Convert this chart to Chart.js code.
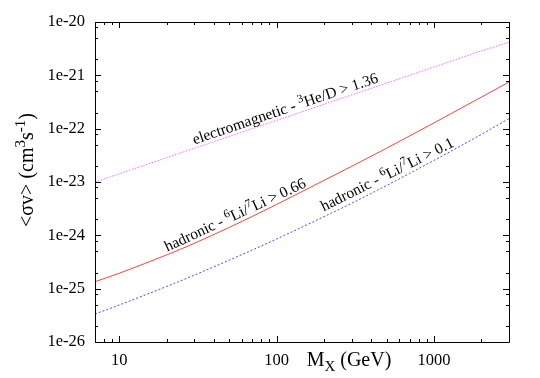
<!DOCTYPE html>
<html><head><meta charset="utf-8">
<script src="https://cdn.jsdelivr.net/npm/chart.js@4/dist/chart.umd.min.js"></script>
<style>html,body{margin:0;padding:0;background:#fff}#wrap{width:540px;height:378px;position:relative}</style>
</head><body><div id="wrap"><canvas id="c"></canvas></div>
<script>
// ---- data ----
const massGeV = [7, 10, 20, 30, 50, 70, 100, 200, 300, 500, 700, 1000, 2000, 3000];
const emHe3D = [1.0e-23, 1.43e-23, 2.86e-23, 4.3e-23, 7.15e-23, 1.0e-22, 1.43e-22, 2.86e-22, 4.3e-22, 7.15e-22, 1.0e-21, 1.43e-21, 2.86e-21, 4.2e-21];
const hadLi066 = [1.35e-25, 1.95e-25, 4.3e-25, 7.1e-25, 1.41e-24, 2.26e-24, 3.8e-24, 1.07e-23, 1.97e-23, 4.3e-23, 7.3e-23, 1.28e-22, 3.9e-22, 7.5e-22];
const hadLi01 = [3.35e-26, 4.95e-26, 1.1e-25, 1.8e-25, 3.43e-25, 5.3e-25, 8.55e-25, 2.24e-24, 4.0e-24, 8.6e-24, 1.45e-23, 2.54e-23, 7.8e-23, 1.55e-22];

const xTickValues = [10, 100, 1000];
const xTickLabels = ['10', '100', '1000'];
const yTickValues = [1e-26, 1e-25, 1e-24, 1e-23, 1e-22, 1e-21, 1e-20];
const yTickLabels = ['1e-26', '1e-25', '1e-24', '1e-23', '1e-22', '1e-21', '1e-20'];
const xMinorMultiples = [2, 3, 4, 5, 6, 7, 8, 9];
const yMinorMultiples = [2, 5, 8];
const xRange = [7, 3000];
const yRange = [1e-26, 1e-20];

// labels: [text, kind] kind 0 normal, 1 superscript, -1 subscript
const curveLabels = [
  {x: 116, y: 1.95e-22, angle: 18.7, parts: [['electromagnetic - ', 0], ['3', 1], ['He/D > 1.36', 0]]},
  {x: 56, y: 2.0e-24, angle: 25, parts: [['hadronic - ', 0], ['6', 1], ['Li/', 0], ['7', 1], ['Li > 0.66', 0]]},
  {x: 520, y: 1.15e-23, angle: 26.5, parts: [['hadronic - ', 0], ['6', 1], ['Li/', 0], ['7', 1], ['Li > 0.1', 0]]}
];
const xTitle = [['M', 0], ['X', -1], [' (GeV)', 0]];
const yTitle = [['<σv> (cm', 0], ['3', 1], ['s', 0], ['-1', 1], [')', 0]];

const FONT = '"Liberation Serif", "Times New Roman", serif';

function drawRich(ctx, parts, cx, cy, angleDeg, size) {
  ctx.save();
  ctx.translate(cx, cy);
  ctx.rotate(-angleDeg * Math.PI / 180);
  ctx.textBaseline = 'alphabetic';
  ctx.textAlign = 'left';
  ctx.fillStyle = '#000';
  const sz = parts.map(p => p[1] ? size * 0.75 : size);
  let w = 0;
  parts.forEach((p, i) => { ctx.font = sz[i] + 'px ' + FONT; w += ctx.measureText(p[0]).width; });
  let x = -w / 2;
  parts.forEach((p, i) => {
    ctx.font = sz[i] + 'px ' + FONT;
    const dy = p[1] === 1 ? -size * 0.38 : (p[1] === -1 ? size * 0.25 : 0);
    ctx.fillText(p[0], x, dy);
    x += ctx.measureText(p[0]).width;
  });
  ctx.restore();
}

const framePlugin = {
  id: 'frame',
  afterDraw(chart) {
    const ctx = chart.ctx, ca = chart.chartArea, xs = chart.scales.x, ys = chart.scales.y;
    ctx.save();
    ctx.strokeStyle = '#000';
    ctx.lineWidth = 1;
    ctx.beginPath();
    ctx.rect(ca.left + 0.5, ca.top + 0.5, ca.right - ca.left, ca.bottom - ca.top);
    ctx.stroke();
    ctx.beginPath();
    for (let d = 1; d <= 1000; d *= 10) {
      const vals = [[d, 6]].concat(xMinorMultiples.map(m => [m * d, 3]));
      for (const [v, L] of vals) {
        if (v < xRange[0] || v > xRange[1]) continue;
        const p = Math.round(xs.getPixelForValue(v)) + 0.5;
        ctx.moveTo(p, ca.bottom); ctx.lineTo(p, ca.bottom - L);
        ctx.moveTo(p, ca.top); ctx.lineTo(p, ca.top + L);
      }
    }
    for (let e = -26; e <= -20; e++) {
      const d = Math.pow(10, e);
      const vals = [[d, 6]].concat(yMinorMultiples.map(m => [m * d, 3]));
      for (const [v, L] of vals) {
        if (v < yRange[0] * 0.999 || v > yRange[1] * 1.001) continue;
        const p = Math.round(ys.getPixelForValue(v)) + 0.5;
        ctx.moveTo(ca.left, p); ctx.lineTo(ca.left + L, p);
        ctx.moveTo(ca.right, p); ctx.lineTo(ca.right - L, p);
      }
    }
    ctx.stroke();
    ctx.restore();
    for (const lb of curveLabels) {
      drawRich(ctx, lb.parts, xs.getPixelForValue(lb.x), ys.getPixelForValue(lb.y), lb.angle, 15.5);
    }
    drawRich(ctx, xTitle, 349, 366, 0, 20);
    drawRich(ctx, yTitle, 33, 170, 90, 20);
  }
};

function series(vals) { return massGeV.map((m, i) => ({x: m, y: vals[i]})); }

new Chart(document.getElementById('c'), {
  type: 'line',
  data: {
    datasets: [
      {data: series(emHe3D), borderColor: '#ff66ff', borderWidth: 1, borderDash: [1.5, 1.5], pointRadius: 0, fill: false, cubicInterpolationMode: 'monotone'},
      {data: series(hadLi066), borderColor: '#ff4040', borderWidth: 1, pointRadius: 0, fill: false, cubicInterpolationMode: 'monotone'},
      {data: series(hadLi01), borderColor: '#4848ff', borderWidth: 1, borderDash: [2, 2], pointRadius: 0, fill: false, cubicInterpolationMode: 'monotone'}
    ]
  },
  options: {
    responsive: true,
    maintainAspectRatio: false,
    animation: false,
    layout: {padding: {top: 22, right: 31, left: 0, bottom: 0}},
    plugins: {legend: {display: false}, tooltip: {enabled: false}},
    scales: {
      x: {
        type: 'logarithmic', min: xRange[0], max: xRange[1],
        grid: {display: false, drawTicks: false}, border: {display: false},
        afterBuildTicks: s => { s.ticks = xTickValues.map(v => ({value: v})); },
        afterFit: s => { s.height = 36; },
        ticks: {font: {family: FONT, size: 16.5}, color: '#000', padding: 9, maxRotation: 0, autoSkip: false,
          callback: (v, i) => xTickLabels[i]}
      },
      y: {
        type: 'logarithmic', min: yRange[0], max: yRange[1],
        grid: {display: false, drawTicks: false}, border: {display: false},
        afterBuildTicks: s => { s.ticks = yTickValues.map(v => ({value: v})); },
        afterFit: s => { s.width = 95; },
        ticks: {font: {family: FONT, size: 16.5}, color: '#000', padding: 10, autoSkip: false,
          callback: (v, i) => yTickLabels[i]}
      }
    }
  },
  plugins: [framePlugin]
});
</script></body></html>
